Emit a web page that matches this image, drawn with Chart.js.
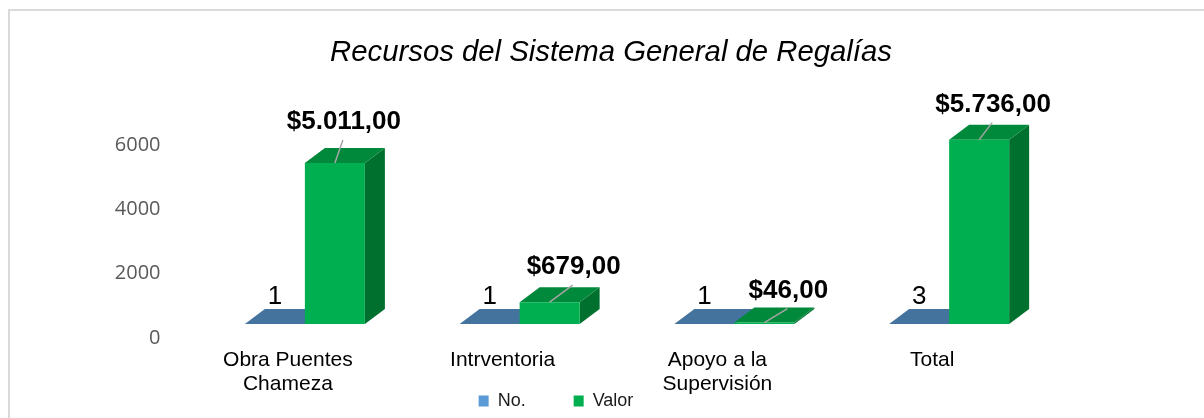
<!DOCTYPE html>
<html>
<head>
<meta charset="utf-8">
<script src="https://cdn.jsdelivr.net/npm/chart.js@4.4.1/dist/chart.umd.min.js"></script>
<style>
  html, body { margin: 0; padding: 0; background: #fff; overflow: hidden; }
  #wrap { position: relative; width: 1204px; height: 418px; }
  #frame { position: absolute; left: 8px; top: 9px; width: 1400px; height: 600px; border: 2px solid #d9d9d9; box-sizing: border-box; }
  #chart { position: absolute; left: 0; top: 0; }
</style>
</head>
<body>
<div id="wrap">
  <div id="frame"></div>
  <canvas id="chart" width="1204" height="418"></canvas>
</div>
<script>
  const categories = [['Obra Puentes', 'Chameza'], 'Intrventoria', ['Apoyo a la', 'Supervisión'], 'Total'];
  const countValues = [1, 1, 1, 3];
  const amountValues = [5011, 679, 46, 5736];
  const yTickValues = [0, 2000, 4000, 6000];

  const FONT = '"Liberation Sans", Arial, sans-serif';

  // fake 3D depth of the Excel style bars
  const DEPTH_X = 20;
  const DEPTH_Y = -15;
  const faceColors = [
    { top: '#44739e', side: '#365d80' },
    { top: '#00893b', side: '#00702f' }
  ];
  // label nudges for the Valor labels (relative to the bar's top front centre)
  const valorNudge = [[9, -41], [24, -35], [24, -32], [14, -35]];

  function money(v) {
    const parts = v.toFixed(2).split('.');
    const int = parts[0].replace(/\B(?=(\d{3})+(?!\d))/g, '.');
    return '$' + int + ',' + parts[1];
  }

  const bars3d = {
    id: 'bars3d',
    afterLayout(chart) {
      // legend sits beside the second line of the axis labels, title is centred on the page
      const lg = chart.legend;
      lg.top = 401 - lg.options.labels.padding - 9;
      lg.bottom = chart.height;
      const tb = chart.titleBlock;
      tb.left = 18;
      tb.right = 1204;
    },
    beforeDatasetsDraw(chart) {
      const ctx = chart.ctx;
      ctx.save();
      chart.data.datasets.forEach((ds, di) => {
        const meta = chart.getDatasetMeta(di);
        const col = faceColors[di];
        meta.data.forEach((bar) => {
          const p = bar.getProps(['x', 'y', 'base', 'width'], true);
          const l = p.x - p.width / 2;
          const r = p.x + p.width / 2;
          const t = Math.min(p.y, p.base);
          const b = p.base;
          ctx.fillStyle = col.side;
          ctx.beginPath();
          ctx.moveTo(r, t);
          ctx.lineTo(r + DEPTH_X, t + DEPTH_Y);
          ctx.lineTo(r + DEPTH_X, b + DEPTH_Y);
          ctx.lineTo(r, b);
          ctx.closePath();
          ctx.fill();
          ctx.fillStyle = col.top;
          ctx.beginPath();
          ctx.moveTo(l, t);
          ctx.lineTo(l + DEPTH_X, t + DEPTH_Y);
          ctx.lineTo(r + DEPTH_X, t + DEPTH_Y);
          ctx.lineTo(r, t);
          ctx.closePath();
          ctx.fill();
        });
      });
      ctx.restore();
    },
    afterDatasetsDraw(chart) {
      const ctx = chart.ctx;
      ctx.save();
      ctx.textAlign = 'center';
      ctx.textBaseline = 'middle';
      // No. labels
      const m0 = chart.getDatasetMeta(0);
      ctx.fillStyle = '#000';
      ctx.font = '26px ' + FONT;
      m0.data.forEach((bar, i) => {
        ctx.fillText(String(countValues[i]), bar.x, bar.y - 27);
      });
      // Valor labels with leader lines
      const m1 = chart.getDatasetMeta(1);
      m1.data.forEach((bar, i) => {
        const lx = bar.x + valorNudge[i][0];
        const ly = bar.y + valorNudge[i][1];
        ctx.strokeStyle = '#a6a6a6';
        ctx.lineWidth = 1.5;
        ctx.beginPath();
        ctx.moveTo(lx - 1, ly + 18);
        ctx.lineTo(bar.x, bar.y);
        ctx.stroke();
        ctx.fillStyle = '#000';
        ctx.font = 'bold 26px ' + FONT;
        ctx.fillText(money(amountValues[i]), lx, ly);
      });
      ctx.restore();
    }
  };

  new Chart(document.getElementById('chart'), {
    type: 'bar',
    data: {
      labels: categories,
      datasets: [
        {
          label: 'No.',
          data: countValues,
          backgroundColor: '#5b9bd5',
          categoryPercentage: 0.559,
          barPercentage: 1
        },
        {
          label: 'Valor',
          data: amountValues,
          backgroundColor: '#00b050',
          categoryPercentage: 0.559,
          barPercentage: 1
        }
      ]
    },
    options: {
      responsive: false,
      animation: false,
      layout: { padding: { left: 55.5, right: 147.5, top: 0, bottom: 0 } },
      plugins: {
        title: {
          display: true,
          text: 'Recursos del Sistema General de Regalías',
          color: '#000',
          font: { family: FONT, size: 29.3, style: 'italic', weight: 'normal' },
          padding: { top: 35, bottom: 61 }
        },
        legend: {
          position: 'bottom',
          maxHeight: 1,
          labels: {
            color: '#1a1a1a',
            font: { family: FONT, size: 18 },
            boxWidth: 10,
            boxHeight: 11,
            padding: 48
          }
        },
        tooltip: { enabled: false }
      },
      scales: {
        x: {
          grid: { display: false, drawTicks: false },
          border: { display: false },
          ticks: {
            color: '#000',
            font: { family: FONT, size: 21, lineHeight: 1.14 },
            padding: 24,
            labelOffset: -17,
            maxRotation: 0,
            autoSkip: false
          },
          afterFit(s) { s.height = 93; }
        },
        y: {
          min: 0,
          max: 6000,
          afterBuildTicks(s) { s.ticks = yTickValues.map((v) => ({ value: v })); },
          grid: { display: false, drawTicks: false },
          border: { display: false },
          ticks: {
            color: '#595959',
            font: { family: '"Open Sans", ' + FONT, size: 20 },
            padding: 37,
            labelOffset: 14,
            callback: (v) => String(v)
          },
          afterFit(s) { s.width = 142; }
        }
      }
    },
    plugins: [bars3d]
  });
</script>
</body>
</html>
